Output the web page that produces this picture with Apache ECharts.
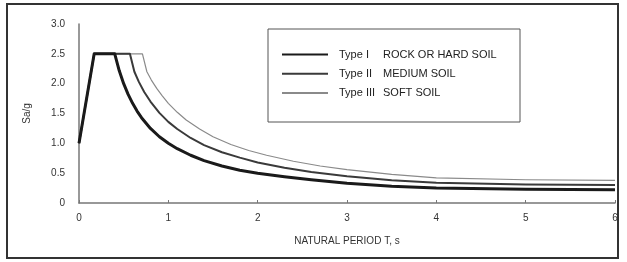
<!DOCTYPE html>
<html>
<head>
<meta charset="utf-8">
<script src="https://cdn.jsdelivr.net/npm/echarts@6/dist/echarts.min.js"></script>
<style>
  html, body { margin: 0; padding: 0; background: #fff; }
  #chartArea { width: 627px; height: 262px; }
</style>
</head>
<body>
<div id="chartArea"></div>
<script>
// values (T in s, Sa/g)
var names = ['Type I', 'Type II', 'Type III'];
var soils = ['ROCK OR HARD SOIL', 'MEDIUM SOIL', 'SOFT SOIL'];

var t1 = [0, 0.17, 0.4, 0.45, 0.5, 0.55, 0.6, 0.65, 0.7, 0.8, 0.9, 1.0, 1.1, 1.25, 1.4, 1.6, 1.8, 2.0, 2.3, 2.6, 3.0, 3.5, 4.0, 5.0, 6.0];
var s1 = [1.0, 2.5, 2.5, 2.22, 2.0, 1.82, 1.67, 1.54, 1.43, 1.25, 1.11, 1.0, 0.91, 0.8, 0.71, 0.62, 0.55, 0.5, 0.44, 0.39, 0.33, 0.28, 0.25, 0.23, 0.22];

var t2 = [0, 0.17, 0.57, 0.62, 0.67, 0.73, 0.8, 0.9, 1.0, 1.1, 1.25, 1.4, 1.6, 1.8, 2.0, 2.3, 2.6, 3.0, 3.5, 4.0, 5.0, 6.0];
var s2 = [1.0, 2.5, 2.5, 2.2, 2.03, 1.86, 1.7, 1.51, 1.36, 1.24, 1.09, 0.97, 0.85, 0.76, 0.68, 0.59, 0.52, 0.45, 0.38, 0.34, 0.31, 0.30];

var t3 = [0, 0.17, 0.71, 0.76, 0.81, 0.87, 0.93, 1.0, 1.1, 1.2, 1.35, 1.5, 1.7, 1.9, 2.1, 2.4, 2.7, 3.0, 3.5, 4.0, 5.0, 6.0];
var s3 = [1.0, 2.5, 2.5, 2.2, 2.06, 1.92, 1.8, 1.67, 1.52, 1.39, 1.24, 1.11, 0.98, 0.88, 0.8, 0.7, 0.62, 0.56, 0.48, 0.42, 0.39, 0.38];

var xTicks = [0, 1, 2, 3, 4, 5, 6];
var yTicks = [0, 0.5, 1.0, 1.5, 2.0, 2.5, 3.0];

function pairs(t, s) {
    var out = [];
    for (var i = 0; i < t.length; i++) out.push([t[i], s[i]]);
    return out;
}

var widths = [3, 2, 1.2];
var colors = ['#1a1a1a', '#3a3a3a', '#8a8a8a'];
var allT = [t1, t2, t3];
var allS = [s1, s2, s3];

var series = [];
for (var k = 0; k < names.length; k++) {
    series.push({
        name: names[k],
        type: 'line',
        data: pairs(allT[k], allS[k]),
        symbol: 'none',
        smooth: false,
        color: colors[k],
        lineStyle: { width: widths[k], color: colors[k], join: 'round' },
        z: 10 - k
    });
}

var option = {
    animation: false,
    backgroundColor: '#fff',
    textStyle: { fontFamily: 'Liberation Sans, Arial, sans-serif' },
    grid: { left: 79, right: 12, top: 24, bottom: 59 },
    graphic: [
        {
            type: 'rect',
            shape: { x: 7, y: 4, width: 611, height: 254 },
            style: { fill: 'none', stroke: '#333', lineWidth: 2 },
            z: -1
        },
        {
            type: 'rect',
            shape: { x: 268, y: 29, width: 252, height: 93 },
            style: { fill: '#fff', stroke: '#555', lineWidth: 1 },
            z: 20
        }
    ],
    legend: {
        orient: 'vertical',
        left: 276,
        top: 44,
        itemWidth: 46,
        itemHeight: 14,
        itemGap: 8,
        z: 30,
        itemStyle: { opacity: 0 },
        formatter: function (name) {
            return '{a|' + name + '}{b|' + soils[names.indexOf(name)] + '}';
        },
        textStyle: {
            color: '#222',
            fontSize: 11,
            padding: [0, 0, 0, 6],
            rich: {
                a: { width: 44, fontSize: 11, color: '#222' },
                b: { fontSize: 11, color: '#222' }
            }
        }
    },
    xAxis: {
        type: 'value',
        min: xTicks[0],
        max: xTicks[xTicks.length - 1],
        interval: 1,
        name: 'NATURAL PERIOD T, s',
        nameLocation: 'middle',
        nameGap: 33,
        nameTextStyle: { fontSize: 10, color: '#333' },
        axisLine: { lineStyle: { color: '#777', width: 1.5 } },
        axisTick: { show: true, inside: true, length: 3, lineStyle: { color: '#777' } },
        axisLabel: { fontSize: 10, color: '#333', margin: 10 },
        splitLine: { show: false }
    },
    yAxis: {
        type: 'value',
        min: yTicks[0],
        max: yTicks[yTicks.length - 1],
        interval: 0.5,
        name: 'Sa/g',
        nameLocation: 'middle',
        nameGap: 47,
        nameRotate: 90,
        nameTextStyle: { fontSize: 10, color: '#333' },
        axisLine: { show: true, lineStyle: { color: '#777', width: 1.5 } },
        axisTick: { show: false },
        axisLabel: {
            fontSize: 10,
            color: '#333',
            margin: 14,
            formatter: function (v) { return v === 0 ? '0' : v.toFixed(1); }
        },
        splitLine: { show: false }
    },
    series: series
};

var myChart = echarts.init(document.getElementById('chartArea'));
myChart.setOption(option);
</script>
</body>
</html>
